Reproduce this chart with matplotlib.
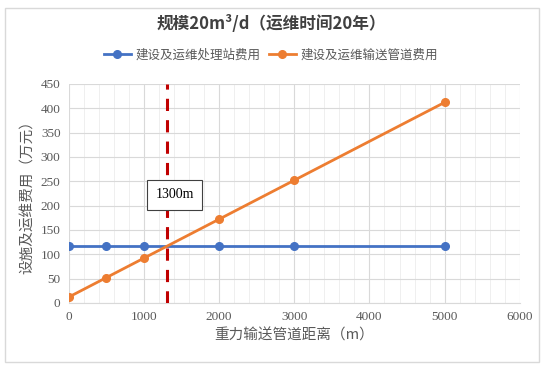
import matplotlib
matplotlib.use("Agg")
import matplotlib.pyplot as plt
from matplotlib.patches import Rectangle
from matplotlib.ticker import MultipleLocator

plt.rcParams["font.family"] = ["Liberation Serif", "Noto Sans CJK SC"]

distance = [0, 500, 1000, 2000, 3000, 5000]
station_cost = [116, 116, 116, 116, 116, 116]
pipe_cost = [12, 52, 92, 172, 252, 412]
cross_x = 1300
cross_label = "1300m"

title = "规模20m³/d（运维时间20年）"
station_name = "建设及运维处理站费用"
pipe_name = "建设及运维输送管道费用"
x_label = "重力输送管道距离（m）"
y_label = "设施及运维费用（万元）"

fig = plt.figure(figsize=(5.42, 3.68), dpi=100)
ax = fig.add_axes([0.127, 0.177, 0.832, 0.595])

fig.patches.append(Rectangle((5 / 542, 1 - 362 / 368), 534 / 542, 354 / 368,
                             transform=fig.transFigure, fill=False,
                             edgecolor="#d9d9d9", linewidth=1.0))

ax.plot(distance, station_cost, color="#4472C4", linewidth=2, marker="o",
        markersize=5.5, label=station_name, zorder=3)
ax.plot(distance, pipe_cost, color="#ED7D31", linewidth=2, marker="o",
        markersize=5.5, label=pipe_name, zorder=3)
ax.axvline(cross_x, color="#C00000", linewidth=2.2, linestyle=(0, (4, 3)), zorder=4)

# label box for the crossing distance
ax.text(1410, 222, cross_label, ha="center", va="center", fontsize=10,
        family=["Liberation Serif"],
        bbox=dict(boxstyle="square,pad=0.6", facecolor="white",
                  edgecolor="#404040", linewidth=0.8), zorder=5)

ax.set_xlim(0, 6000)
ax.set_ylim(0, 450)
ax.xaxis.set_major_locator(MultipleLocator(1000))
ax.xaxis.set_minor_locator(MultipleLocator(200))
ax.yaxis.set_major_locator(MultipleLocator(50))
ax.grid(True, which="major", color="#d9d9d9", linewidth=0.8)
ax.grid(True, which="minor", axis="x", color="#efefef", linewidth=0.7)
ax.set_axisbelow(True)
for side in ["top", "right", "left"]:
    ax.spines[side].set_visible(False)
ax.spines["bottom"].set_color("#d9d9d9")
ax.tick_params(which="both", length=0, labelsize=9.5, colors="#595959", pad=6)

ax.set_xlabel(x_label, fontsize=10.5, color="#595959", labelpad=4,
              family=["Noto Sans CJK SC"])
ax.set_ylabel(y_label, fontsize=10.5, color="#595959", labelpad=4,
              family=["Noto Sans CJK SC"])

fig.text(0.5, 1 - 24 / 368, title, ha="center", va="center", fontsize=12,
         color="#404040", family=["Noto Sans CJK SC"], fontweight="bold")
fig.legend(loc="center", bbox_to_anchor=(0.5, 1 - 55 / 368), ncol=2,
           frameon=False, handlelength=2.2, columnspacing=0.6,
           handletextpad=0.4, prop={"family": ["Noto Sans CJK SC"], "size": 9},
           labelcolor="#595959")

fig.savefig("out.png", dpi=100)
